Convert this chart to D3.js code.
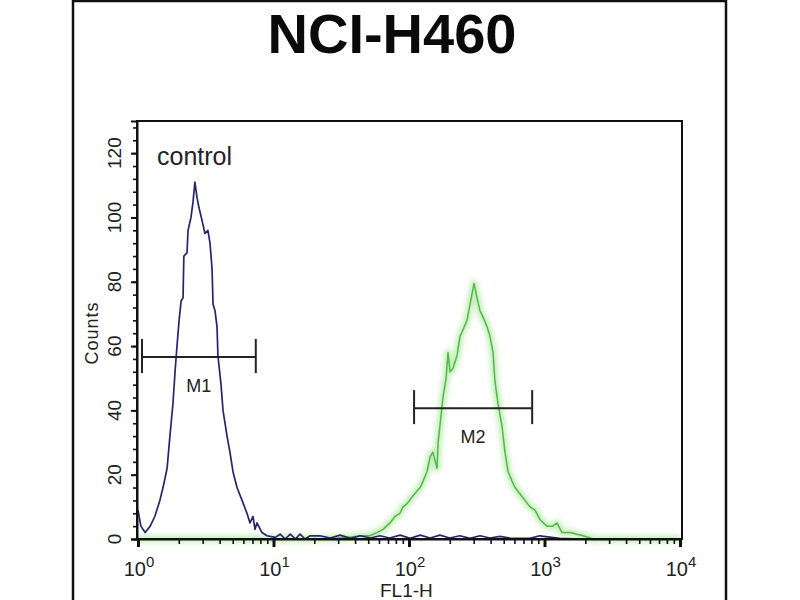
<!DOCTYPE html>
<html>
<head>
<meta charset="utf-8">
<script src="https://cdn.jsdelivr.net/npm/d3@7"></script>
<style>
  body { margin: 0; background: #fff; }
  svg { display: block; font-family: "Liberation Sans", Arial, sans-serif; }
</style>
</head>
<body>
<script>
// chart data
const title = "NCI-H460";
const xLabel = "FL1-H";
const yLabel = "Counts";
const xDecades = [1, 10, 100, 1000, 10000];
const xExponents = ["0", "1", "2", "3", "4"];
const yTicks = [0, 20, 40, 60, 80, 100, 120];

// [FL1-H, counts]
const control = [
  [1.0, 9], [1.05, 4], [1.13, 2], [1.23, 4], [1.33, 7], [1.45, 12], [1.53, 16], [1.64, 22],
  [1.72, 32], [1.81, 42], [1.88, 52.5], [1.94, 60], [2.01, 68], [2.08, 74], [2.15, 75],
  [2.18, 88], [2.30, 89], [2.34, 96], [2.46, 100], [2.55, 105], [2.63, 111], [2.73, 106],
  [2.82, 103], [2.97, 99], [3.12, 95], [3.28, 96], [3.40, 92], [3.52, 84], [3.58, 73],
  [3.70, 71], [3.83, 66], [3.89, 57], [4.10, 48], [4.24, 40], [4.54, 32], [4.77, 27],
  [5.02, 21], [5.38, 16], [5.86, 12], [6.37, 8], [6.71, 5], [7.06, 7], [7.30, 3], [7.55, 5],
  [8.22, 2], [8.95, 1], [10.3, 0.5], [11.2, 1.5], [12.2, 0], [13.3, 1.5], [14.5, 0],
  [15.7, 1.5], [17.1, 0], [18.6, 1], [22.0, 1], [26.2, 0.3], [31, 1.2], [37, 0.2],
  [43.6, 1], [52, 0.3], [61, 1], [72, 0.3], [86, 1.2], [102, 0.2], [121, 1.2], [143, 0.3],
  [169, 1.2], [200, 0.3], [237, 1], [282, 0.2], [334, 1], [396, 0.3], [468, 0.8],
  [555, 0.3], [657, 0.2], [780, 0.2], [922, 1], [1290, 0.2], [1820, 0], [10000, 0]
];

const sample = [
  [1, 0], [20, 0], [35, 0.5], [45, 1], [51.5, 1], [58, 2], [64.3, 3], [72.4, 5], [78.8, 7],
  [85.8, 8], [90.3, 10], [96.7, 11], [105, 13], [115, 15], [121, 16], [127, 18], [136, 21],
  [143, 25.5], [150, 27], [161, 22], [164, 30], [172, 38], [178, 44], [188, 50], [194, 58],
  [201, 52], [211, 53], [226, 57], [238, 63], [250, 65], [268, 68], [282, 73], [302, 79.5],
  [318, 75], [334, 71], [352, 69], [377, 66], [396, 63], [417, 58], [431, 49], [454, 42],
  [486, 35], [511, 27], [538, 21], [576, 18], [606, 16], [660, 14], [718, 12], [782, 10],
  [851, 9], [927, 6], [1043, 4], [1150, 4], [1236, 5], [1346, 2], [1543, 2], [1923, 1],
  [2300, 0], [10000, 0]
];

// markers: name, from, to, level
const markerNames = ["M1", "M2"];
const markerFrom = [1.07, 109];
const markerTo = [7.4, 811];
const markerLevel = [56.6, 40.7];

const W = 800, H = 600;
const svg = d3.select("body").append("svg").attr("width", W).attr("height", H);

// blur for the green glow
svg.append("defs").append("filter").attr("id", "glow")
  .attr("x", "-10%").attr("y", "-10%").attr("width", "120%").attr("height", "120%")
  .append("feGaussianBlur").attr("stdDeviation", 2.5);

// outer frame
svg.append("rect")
  .attr("x", 73).attr("y", 1).attr("width", 653).attr("height", 650)
  .attr("fill", "none").attr("stroke", "#111").attr("stroke-width", 2.5);

svg.append("text")
  .attr("x", 392).attr("y", 53)
  .attr("text-anchor", "middle")
  .attr("font-size", 56).attr("font-weight", "bold").attr("fill", "#0a0a0a")
  .text(title);

const x = d3.scaleLog().domain([1, 10000]).range([138, 680]);
const y = d3.scaleLinear().domain([0, 130]).range([539, 121]);

const line = d3.line().x(d => x(d[0])).y(d => y(d[1]));

// sample (green) with a soft halo
svg.append("path").datum(sample)
  .attr("d", line).attr("fill", "none")
  .attr("stroke", "#b6eaa8").attr("stroke-width", 7).attr("opacity", 0.8)
  .attr("stroke-linejoin", "round")
  .attr("filter", "url(#glow)");
svg.append("path").datum(sample)
  .attr("d", line).attr("fill", "none")
  .attr("stroke", "#52b84c").attr("stroke-width", 1.5)
  .attr("stroke-linejoin", "round");

// control (navy)
svg.append("path").datum(control)
  .attr("d", line).attr("fill", "none")
  .attr("stroke", "#25256e").attr("stroke-width", 1.7)
  .attr("stroke-linejoin", "round");

// plot box
svg.append("rect")
  .attr("x", 137).attr("y", 121).attr("width", 545).attr("height", 418)
  .attr("fill", "none").attr("stroke", "#111").attr("stroke-width", 2);

// x axis: minor and major ticks
let minor = [];
xDecades.slice(0, -1).forEach(d => { for (let k = 2; k < 10; k++) minor.push(d * k); });

const xMinor = svg.append("g").attr("transform", "translate(0,539)")
  .call(d3.axisBottom(x).tickValues(minor).tickSize(5).tickFormat(""));
xMinor.select(".domain").remove();
xMinor.selectAll("line").attr("stroke", "#111").attr("stroke-width", 1.6);

const xMajor = svg.append("g").attr("transform", "translate(0,539)")
  .call(d3.axisBottom(x).tickValues(xDecades).tickSize(8).tickFormat(""));
xMajor.select(".domain").attr("stroke", "#111").attr("stroke-width", 2);
xMajor.selectAll("line").attr("stroke", "#111").attr("stroke-width", 3);

const xLab = svg.append("g").selectAll("text").data(xDecades).join("text")
  .attr("x", d => x(d) + 1).attr("y", 576)
  .attr("text-anchor", "middle").attr("fill", "#222").attr("font-size", 20);
xLab.append("tspan").text("10");
xLab.append("tspan").attr("dy", -9).attr("font-size", 15).text((d, i) => xExponents[i]);

svg.append("text")
  .attr("x", 380).attr("y", 597)
  .attr("fill", "#222").attr("font-size", 19)
  .text(xLabel);

// y axis
const yMinor = svg.append("g").attr("transform", "translate(137,0)")
  .call(d3.axisLeft(y).tickValues(d3.range(0, 131, 4)).tickSize(4).tickFormat(""));
yMinor.select(".domain").remove();
yMinor.selectAll("line").attr("stroke", "#111").attr("stroke-width", 1.6);

const yMajor = svg.append("g").attr("transform", "translate(137,0)")
  .call(d3.axisLeft(y).tickValues(yTicks).tickSize(6).tickFormat(""));
yMajor.select(".domain").attr("stroke", "#111").attr("stroke-width", 2);
yMajor.selectAll("line").attr("stroke", "#111").attr("stroke-width", 2);

svg.append("g").selectAll("text").data(yTicks).join("text")
  .attr("transform", d => "translate(121," + y(d) + ") rotate(-90)")
  .attr("text-anchor", "middle").attr("fill", "#222").attr("font-size", 19)
  .text(d => d);

svg.append("text")
  .attr("transform", "translate(98,333) rotate(-90)")
  .attr("text-anchor", "middle").attr("fill", "#222").attr("font-size", 18)
  .attr("letter-spacing", 1)
  .text(yLabel);

svg.append("text")
  .attr("x", 157).attr("y", 165)
  .attr("fill", "#222").attr("font-size", 25)
  .text("control");

// marker bars
markerNames.forEach((name, i) => {
  const g = svg.append("g").attr("stroke", "#222").attr("stroke-width", 2);
  const yy = y(markerLevel[i]);
  const x0 = x(markerFrom[i]), x1 = x(markerTo[i]);
  g.append("line").attr("x1", x0).attr("x2", x1).attr("y1", yy).attr("y2", yy);
  g.append("line").attr("x1", x0).attr("x2", x0).attr("y1", yy - 18).attr("y2", yy + 16);
  g.append("line").attr("x1", x1).attr("x2", x1).attr("y1", yy - 18).attr("y2", yy + 16);
  svg.append("text")
    .attr("x", (x0 + x1) / 2).attr("y", yy + 35)
    .attr("text-anchor", "middle").attr("fill", "#222").attr("font-size", 18)
    .text(name);
});
</script>
</body>
</html>
